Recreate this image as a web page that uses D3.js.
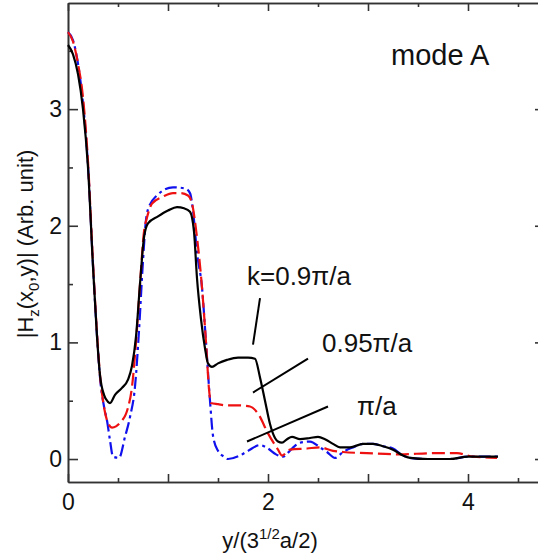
<!DOCTYPE html>
<html>
<head>
<meta charset="utf-8">
<script src="https://cdn.jsdelivr.net/npm/d3@7"></script>
<style>
  body { margin: 0; background: #fff; }
  text { font-family: "Liberation Sans", Arial, sans-serif; fill: #111; }
</style>
</head>
<body>
<div id="chart"></div>
<script>
// k = 0.9 pi/a (black solid)
var xBlack = [0, 0.05, 0.1, 0.15, 0.2, 0.25, 0.29, 0.32, 0.36, 0.4, 0.42, 0.47, 0.54, 0.6, 0.64, 0.68, 0.72, 0.76, 0.8, 0.9, 1.0, 1.09, 1.16, 1.22, 1.26, 1.29, 1.33, 1.37, 1.4, 1.44, 1.5, 1.59, 1.7, 1.8, 1.87, 1.92, 1.97, 2.02, 2.07, 2.1, 2.14, 2.19, 2.24, 2.32, 2.42, 2.5, 2.57, 2.65, 2.72, 2.82, 2.95, 3.05, 3.15, 3.25, 3.35, 3.42, 3.6, 3.82, 4.0, 4.3];
var yBlack = [3.55, 3.47, 3.3, 3.0, 2.5, 1.65, 1.05, 0.72, 0.55, 0.49, 0.48, 0.55, 0.61, 0.68, 0.8, 1.05, 1.5, 1.9, 2.02, 2.08, 2.13, 2.16, 2.15, 2.12, 1.95, 1.55, 1.2, 0.95, 0.82, 0.79, 0.82, 0.85, 0.87, 0.87, 0.86, 0.7, 0.5, 0.3, 0.18, 0.15, 0.14, 0.17, 0.19, 0.17, 0.18, 0.19, 0.17, 0.13, 0.1, 0.1, 0.13, 0.13, 0.11, 0.08, 0.03, 0.01, 0.0, 0.0, 0.02, 0.02];

// k = 0.95 pi/a (red dashed)
var xRed = [0, 0.05, 0.1, 0.15, 0.2, 0.25, 0.29, 0.32, 0.35, 0.4, 0.44, 0.48, 0.52, 0.6, 0.64, 0.68, 0.72, 0.76, 0.79, 0.84, 0.95, 1.05, 1.12, 1.2, 1.24, 1.29, 1.34, 1.38, 1.41, 1.43, 1.5, 1.59, 1.7, 1.82, 1.9, 2.0, 2.1, 2.14, 2.22, 2.39, 2.52, 2.65, 2.75, 2.99, 3.32, 3.65, 3.89, 4.05, 4.29];
var yRed = [3.66, 3.58, 3.39, 3.1, 2.55, 1.68, 1.08, 0.72, 0.5, 0.31, 0.27, 0.28, 0.31, 0.44, 0.62, 1.0, 1.5, 1.95, 2.07, 2.19, 2.25, 2.28, 2.28, 2.26, 2.19, 1.9, 1.47, 1.0, 0.6, 0.48, 0.47, 0.46, 0.46, 0.45, 0.39, 0.22, 0.08, 0.03, 0.08, 0.09, 0.1, 0.07, 0.06, 0.05, 0.04, 0.05, 0.05, 0.02, 0.01];

// k = pi/a (blue dash-dot)
var xBlue = [0, 0.05, 0.1, 0.15, 0.2, 0.25, 0.29, 0.32, 0.36, 0.39, 0.42, 0.45, 0.51, 0.57, 0.62, 0.67, 0.71, 0.75, 0.78, 0.8, 0.89, 1.05, 1.17, 1.22, 1.25, 1.29, 1.34, 1.38, 1.42, 1.45, 1.5, 1.56, 1.6, 1.72, 1.8, 1.92, 2.0, 2.08, 2.15, 2.24, 2.32, 2.42, 2.52, 2.59, 2.67, 2.75, 2.85, 2.95, 3.05, 3.15, 3.25, 3.35, 3.42, 3.6, 3.82, 4.0, 4.3];
var yBlue = [3.66, 3.59, 3.39, 3.05, 2.52, 1.66, 1.06, 0.7, 0.45, 0.33, 0.16, 0.02, 0.01, 0.19, 0.36, 0.62, 1.1, 1.7, 2.05, 2.14, 2.26, 2.33, 2.32, 2.28, 2.13, 1.77, 1.47, 1.0, 0.5, 0.2, 0.07, 0.02, 0.0, 0.03, 0.07, 0.12, 0.09, 0.04, 0.02, 0.09, 0.14, 0.15, 0.1, 0.06, 0.01, 0.06, 0.1, 0.13, 0.13, 0.11, 0.09, 0.03, 0.01, 0.0, 0.0, 0.02, 0.02];

var xTicks = [0, 1, 2, 3, 4];
var xMinorTicks = [0.5, 1.5, 2.5, 3.5, 4.5];
var yTicks = [0, 1, 2, 3];
var yMinorTicks = [0.5, 1.5, 2.5, 3.5];

// labels and their pointer lines, in data units
var labelText = ['k=0.9\u03c0/a', '0.95\u03c0/a', '\u03c0/a'];
var labelX = [1.79, 2.54, 2.89];
var labelY = [1.49, 0.92, 0.38];
var pointerX1 = [1.92, 2.40, 2.60];
var pointerY1 = [1.38, 0.86, 0.45];
var pointerX2 = [1.85, 1.85, 1.79];
var pointerY2 = [0.98, 0.57, 0.15];

var w = 538;
var h = 553;
var svg = d3.select('#chart').append('svg')
  .attr('width', w)
  .attr('height', h);

var x = d3.scaleLinear().domain([0, 4.77]).range([68, 545]);
var y = d3.scaleLinear().domain([-0.197, 3.91]).range([482, 3]);

function drawAxis(axis, tx, ty) {
  var g = svg.append('g')
    .attr('transform', 'translate(' + tx + ',' + ty + ')')
    .call(axis);
  g.select('.domain').attr('stroke', '#333').attr('stroke-width', 1.6);
  g.selectAll('.tick line').attr('stroke', '#333').attr('stroke-width', 1.6);
  g.selectAll('text').attr('font-size', 23).attr('fill', '#111')
    .attr('font-family', '"Liberation Sans", Arial, sans-serif');
  return g;
}

// bottom
drawAxis(d3.axisBottom(x).tickValues(xMinorTicks).tickSizeInner(-4).tickSizeOuter(0).tickFormat(''), 0, 482);
drawAxis(d3.axisBottom(x).tickValues(xTicks).tickSizeInner(-8).tickSizeOuter(0).tickPadding(12)
  .tickFormat(function (d) { return d % 2 == 0 ? d : ''; }), 0, 482);
// top
drawAxis(d3.axisTop(x).tickValues(xMinorTicks).tickSizeInner(-4).tickSizeOuter(0).tickFormat(''), 0, 3);
drawAxis(d3.axisTop(x).tickValues(xTicks).tickSizeInner(-8).tickSizeOuter(0).tickFormat(''), 0, 3);
// left
drawAxis(d3.axisLeft(y).tickValues(yMinorTicks).tickSizeInner(-5).tickSizeOuter(0).tickFormat(''), 68, 0);
drawAxis(d3.axisLeft(y).tickValues(yTicks).tickSizeInner(-10).tickSizeOuter(0).tickPadding(6)
  .tickFormat(d3.format('d')), 68, 0);
// right
drawAxis(d3.axisRight(y).tickValues(yMinorTicks).tickSizeInner(-5).tickSizeOuter(0).tickFormat(''), 545, 0);
drawAxis(d3.axisRight(y).tickValues(yTicks).tickSizeInner(-10).tickSizeOuter(0).tickFormat(''), 545, 0);

var line = d3.line()
  .x(function (d) { return x(d[0]); })
  .y(function (d) { return y(d[1]); })
  .curve(d3.curveMonotoneX);

var series = [
  { xs: xBlack, ys: yBlack, color: '#000000', dash: null },
  { xs: xRed, ys: yRed, color: '#ee1111', dash: '13,5' },
  { xs: xBlue, ys: yBlue, color: '#1111ee', dash: '12,4,3,4' }
];

// draw blue first, then red, black on top
[2, 1, 0].forEach(function (i) {
  var s = series[i];
  svg.append('path')
    .datum(d3.zip(s.xs, s.ys))
    .attr('d', line)
    .attr('fill', 'none')
    .attr('stroke', s.color)
    .attr('stroke-width', 2.2)
    .attr('stroke-dasharray', s.dash);
});

// pointer lines
svg.selectAll('.pointer')
  .data(labelText)
  .enter()
  .append('line')
  .attr('class', 'pointer')
  .attr('x1', function (d, i) { return x(pointerX1[i]); })
  .attr('y1', function (d, i) { return y(pointerY1[i]); })
  .attr('x2', function (d, i) { return x(pointerX2[i]); })
  .attr('y2', function (d, i) { return y(pointerY2[i]); })
  .attr('stroke', '#000')
  .attr('stroke-width', 2);

svg.selectAll('.klabel')
  .data(labelText)
  .enter()
  .append('text')
  .attr('class', 'klabel')
  .text(function (d) { return d; })
  .attr('x', function (d, i) { return x(labelX[i]); })
  .attr('y', function (d, i) { return y(labelY[i]); })
  .attr('font-size', 26);

svg.append('text')
  .text('mode A')
  .attr('x', x(3.23))
  .attr('y', y(3.38))
  .attr('font-size', 29);

// x title
var xt = svg.append('text')
  .attr('x', 270)
  .attr('y', 548)
  .attr('text-anchor', 'middle')
  .attr('font-size', 22);
xt.append('tspan').text('y/(3');
xt.append('tspan').text('1/2').attr('font-size', 15).attr('dy', -9);
xt.append('tspan').text('a/2)').attr('dy', 9);

// y title
var yt = svg.append('text')
  .attr('transform', 'translate(33,244) rotate(-90)')
  .attr('text-anchor', 'middle')
  .attr('font-size', 22);
yt.append('tspan').text('|H');
yt.append('tspan').text('z').attr('font-size', 15).attr('dy', 6);
yt.append('tspan').text('(x').attr('dy', -6);
yt.append('tspan').text('0').attr('font-size', 15).attr('dy', 6);
yt.append('tspan').text(',y)| (Arb. unit)').attr('dy', -6);
</script>
</body>
</html>
